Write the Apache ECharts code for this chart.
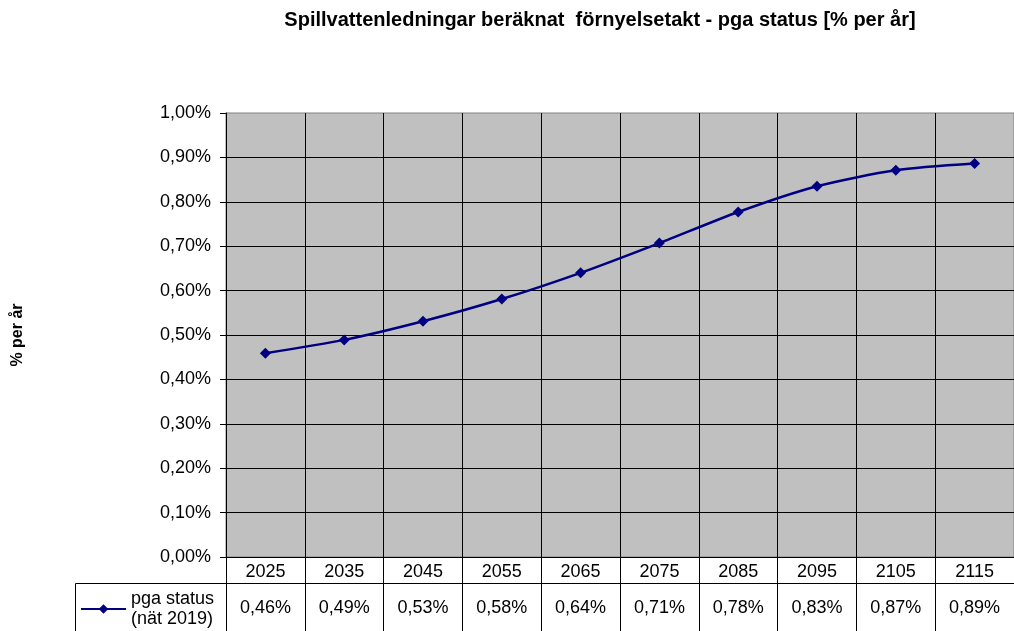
<!DOCTYPE html>
<html><head><meta charset="utf-8">
<script src="https://cdn.jsdelivr.net/npm/echarts@6/dist/echarts.min.js"></script>
<style>html,body{margin:0;padding:0;background:#fff}#c{width:1014px;height:631px}</style>
</head><body><div id="c"></div>
<script>
const years = ['2025','2035','2045','2055','2065','2075','2085','2095','2105','2115'];
const values = [0.459,0.489,0.531,0.581,0.640,0.707,0.777,0.835,0.871,0.886];
const seriesName = 'pga status\n(nät 2019)';
const titleText = 'Spillvattenledningar beräknat  förnyelsetakt - pga status [% per år]';
const yName = '% per år';

const fmt = v => v.toFixed(2).replace('.', ',') + '%';
const FONT = '"Liberation Sans", Arial, sans-serif';

const chart = echarts.init(document.getElementById('c'));
chart.setOption({
  animation: false,
  textStyle: { fontFamily: FONT, color: '#000' },
  title: { text: titleText, left: 595, textAlign: 'center', top: 5,
    textStyle: { fontFamily: FONT, fontSize: 20, fontWeight: 'bold', color: '#000' } },
  grid: { left: 226, top: 113, width: 790, bottom: 74, show: true,
    backgroundColor: '#c0c0c0', borderColor: '#808080', borderWidth: 1 },
  legend: { left: 75, top: 584, orient: 'vertical', itemWidth: 45, itemHeight: 12, itemGap: 0,
    textStyle: { fontFamily: FONT, fontSize: 18, color: '#000', lineHeight: 20 },
    data: [seriesName] },
  xAxis: [
    { type: 'category', data: years, position: 'bottom', boundaryGap: true,
      axisLine: { lineStyle: { color: '#000', width: 1 } },
      axisTick: { show: true, length: 76, inside: false, lineStyle: { color: '#000' } },
      axisLabel: { fontSize: 18, color: '#000', margin: 6, fontFamily: FONT },
      splitLine: { show: true, lineStyle: { color: '#000', width: 1 } } },
    { type: 'category', data: values.map(fmt), position: 'bottom', offset: 26,
      axisLine: { lineStyle: { color: '#000', width: 1 } },
      axisTick: { show: false },
      axisLabel: { fontSize: 18, color: '#000', margin: 16, fontFamily: FONT } }
  ],
  yAxis: { type: 'value', min: 0, max: 1, interval: 0.1,
    name: yName, nameLocation: 'middle', nameGap: 200, nameRotate: 90,
    nameTextStyle: { fontFamily: FONT, fontSize: 16, fontWeight: 'bold', color: '#000' },
    axisLine: { show: true, lineStyle: { color: '#000' } },
    axisTick: { show: true, length: 6, lineStyle: { color: '#000' } },
    axisLabel: { formatter: fmt, fontSize: 18, color: '#000', margin: 15, fontFamily: FONT },
    splitLine: { show: true, showMaxLine: false, lineStyle: { color: '#000', width: 1 } } },
  graphic: [
    { type: 'rect', shape: { x: 75.5, y: 583.5, width: 151, height: 60 },
      style: { fill: 'none', stroke: '#000', lineWidth: 1 }, z: 10 }
  ],
  series: [{
    name: seriesName, type: 'line', xAxisIndex: 0, data: values, smooth: 0.25,
    symbol: 'diamond', symbolSize: 11,
    lineStyle: { color: '#000080', width: 2.5 },
    itemStyle: { color: '#000080' }
  }]
});
</script></body></html>
